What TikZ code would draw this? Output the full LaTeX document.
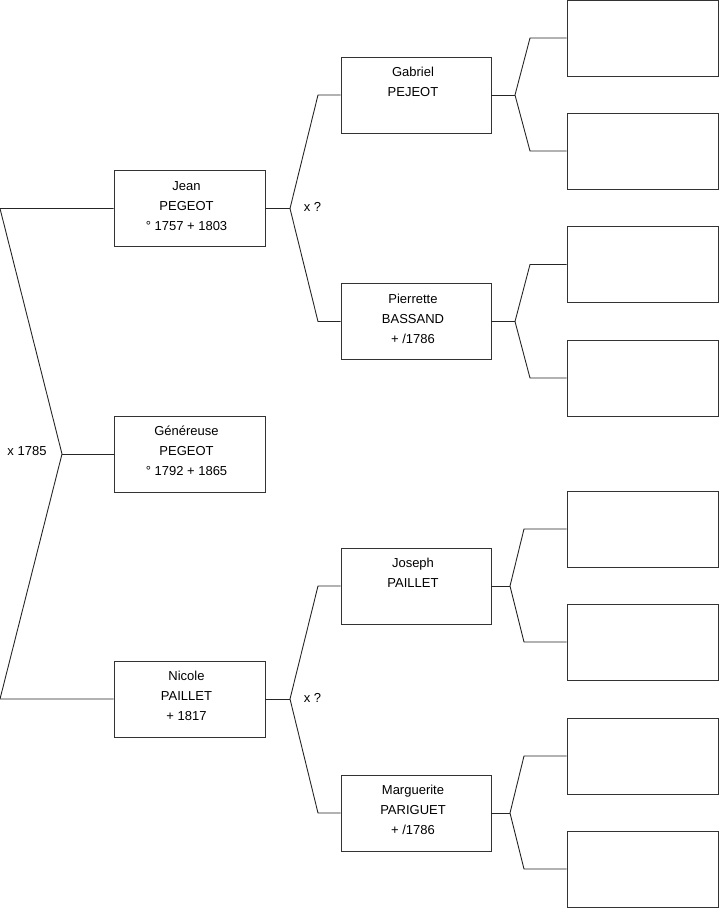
\documentclass[tikz,border=0pt]{standalone}
\usepackage{fontspec}
\setmainfont{Liberation Sans}
\begin{document}
\begin{tikzpicture}[x=1pt,y=-1pt,
  box/.style={draw=black!80,line width=0.9pt,minimum width=151pt,minimum height=76pt,inner sep=0pt},
  nbox/.style={draw=black!80,line width=0.9pt,minimum width=150pt,minimum height=76pt,inner sep=0pt},
  txt/.style={anchor=north,inner sep=0pt,align=center,font=\fontsize{13}{20}\selectfont},
  lbl/.style={anchor=base,inner sep=0pt,font=\fontsize{13}{14}\selectfont},
  link/.style={draw=black!85,line width=0.9pt}]
\useasboundingbox (0,0) rectangle (719,908);
% generation 1
\node[box] (jean) at (189.5,208.5) {};
\node[box] (gen) at (189.5,454) {};
\node[box] (nicole) at (189.5,699) {};
% generation 2
\node[nbox] (gab) at (416,95) {};
\node[nbox] (pier) at (416,321.5) {};
\node[nbox] (jos) at (416,586) {};
\node[nbox] (marg) at (416,813) {};
% generation 3
\node[box] (e1) at (642.5,38) {};
\node[box] (e2) at (642.5,151) {};
\node[box] (e3) at (642.5,264.5) {};
\node[box] (e4) at (642.5,378) {};
\node[box] (e5) at (642.5,529) {};
\node[box] (e6) at (642.5,642) {};
\node[box] (e7) at (642.5,756) {};
\node[box] (e8) at (642.5,869) {};
% texts
\node[txt] (tjean) at ([xshift=-3pt,yshift=-6pt]jean.north) {\strut Jean\\\strut PEGEOT\\\strut ° 1757 + 1803};
\node[txt] (tgen) at ([xshift=-3pt,yshift=-6pt]gen.north) {\strut Généreuse\\\strut PEGEOT\\\strut ° 1792 + 1865};
\node[txt] (tnic) at ([xshift=-3pt,yshift=-6pt]nicole.north) {\strut Nicole\\\strut PAILLET\\\strut + 1817};
\node[txt] (tgab) at ([xshift=-3pt,yshift=-6pt]gab.north) {\strut Gabriel\\\strut PEJEOT};
\node[txt] (tpier) at ([xshift=-3pt,yshift=-6pt]pier.north) {\strut Pierrette\\\strut BASSAND\\\strut + /1786};
\node[txt] (tjos) at ([xshift=-3pt,yshift=-6pt]jos.north) {\strut Joseph\\\strut PAILLET};
\node[txt] (tmarg) at ([xshift=-3pt,yshift=-6pt]marg.north) {\strut Marguerite\\\strut PARIGUET\\\strut + /1786};
% junction coordinates
\coordinate (L1) at (0,208.5);
\coordinate (L2) at (62,454);
\coordinate (L3) at (0,699);
\coordinate (J) at (290,208.5);
\coordinate (Ja) at (318,95);
\coordinate (Jb) at (318,321.5);
\coordinate (N) at (290,699);
\coordinate (Na) at (318,586);
\coordinate (Nb) at (318,813);
\coordinate (G) at (515,95);
\coordinate (Ga) at (530,38);
\coordinate (Gb) at (530,151);
\coordinate (P) at (515,321.5);
\coordinate (Pa) at (530,264.5);
\coordinate (Pb) at (530,378);
\coordinate (O) at (510,586);
\coordinate (Oa) at (524,529);
\coordinate (Ob) at (524,642);
\coordinate (M) at (510,813);
\coordinate (Ma) at (524,756);
\coordinate (Mb) at (524,869);
% connectors
\draw[link] (jean.west) -- (L1) -- (L2) -- (L3) -- (nicole.west);
\draw[link] (L2) -- (gen.west);
\draw[link] (jean.east) -- (J);
\draw[link] (gab.west) -- (Ja) -- (J) -- (Jb) -- (pier.west);
\draw[link] (nicole.east) -- (N);
\draw[link] (jos.west) -- (Na) -- (N) -- (Nb) -- (marg.west);
\draw[link] (gab.east) -- (G);
\draw[link] (e1.west) -- (Ga) -- (G) -- (Gb) -- (e2.west);
\draw[link] (pier.east) -- (P);
\draw[link] (e3.west) -- (Pa) -- (P) -- (Pb) -- (e4.west);
\draw[link] (jos.east) -- (O);
\draw[link] (e5.west) -- (Oa) -- (O) -- (Ob) -- (e6.west);
\draw[link] (marg.east) -- (M);
\draw[link] (e7.west) -- (Ma) -- (M) -- (Mb) -- (e8.west);
% labels
\node[lbl] (m1) at (27,455) {x 1785};
\node[lbl] (m2) at (312.5,211) {x ?};
\node[lbl] (m3) at (312.5,702) {x ?};
\end{tikzpicture}
\end{document}
